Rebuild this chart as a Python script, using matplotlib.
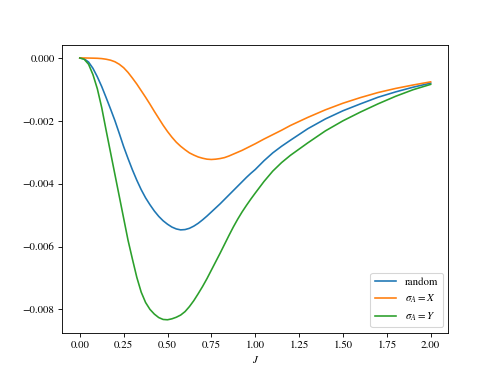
import numpy as np
import matplotlib.pyplot as plt

plt.rcParams['font.family'] = 'STIXGeneral'
plt.rcParams['mathtext.fontset'] = 'stix'

J = [0.0, 0.025, 0.05, 0.075, 0.1, 0.125, 0.15, 0.175, 0.2, 0.225,
     0.25, 0.275, 0.3, 0.325, 0.35, 0.375, 0.4, 0.425, 0.45, 0.475,
     0.5, 0.525, 0.55, 0.575, 0.6, 0.625, 0.65, 0.675, 0.7, 0.725,
     0.75, 0.775, 0.8, 0.825, 0.85, 0.875, 0.9, 0.925, 0.95, 0.975,
     1.0, 1.05, 1.1, 1.15, 1.2, 1.3, 1.4, 1.5, 1.6, 1.7, 1.8, 1.9, 2.0]

random_vals = [0.0, -0.00003, -0.00013, -0.00033, -0.0006, -0.00091, -0.00126, -0.00162, -0.00199, -0.0024,
               -0.00282, -0.0032, -0.00356, -0.00389, -0.00419, -0.00445, -0.00467, -0.00487, -0.00504, -0.00518,
               -0.00529, -0.00538, -0.00544, -0.00547, -0.00546, -0.00542, -0.00535, -0.00526, -0.00515, -0.00503,
               -0.0049, -0.00477, -0.00464, -0.0045, -0.00436, -0.00422, -0.00408, -0.00394, -0.0038, -0.00367,
               -0.00355, -0.00327, -0.00302, -0.00281, -0.00262, -0.00225, -0.00194, -0.00168, -0.00146, -0.00125,
               -0.00108, -0.00093, -0.0008]

sigma_x = [0.0, 0.0, -0.000003, -0.000006, -0.00001, -0.00002, -0.00004, -0.00007, -0.00012, -0.0002,
           -0.00031, -0.00046, -0.00064, -0.00083, -0.00104, -0.00125, -0.00147, -0.0017, -0.00192, -0.00214,
           -0.00234, -0.00252, -0.00268, -0.00281, -0.00292, -0.00302, -0.00309, -0.00315, -0.00319, -0.00322,
           -0.00323, -0.00322, -0.0032, -0.00317, -0.00312, -0.00306, -0.003, -0.00294, -0.00287, -0.0028,
           -0.00273, -0.00258, -0.00244, -0.0023, -0.00215, -0.00189, -0.00165, -0.00144, -0.00126, -0.0011,
           -0.00097, -0.00086, -0.00076]

sigma_y = [0.0, -0.00004, -0.0002, -0.00053, -0.00098, -0.00158, -0.0023, -0.003, -0.0037, -0.0044,
           -0.0051, -0.0058, -0.0064, -0.00698, -0.00745, -0.00778, -0.008, -0.00815, -0.00826, -0.00832,
           -0.00833, -0.0083, -0.00825, -0.00818, -0.00807, -0.00791, -0.00772, -0.0075, -0.00727, -0.00702,
           -0.00675, -0.00648, -0.00621, -0.00593, -0.00565, -0.00538, -0.00513, -0.0049, -0.00469, -0.00449,
           -0.0043, -0.00393, -0.0036, -0.00333, -0.0031, -0.0027, -0.00232, -0.002, -0.00172, -0.00146,
           -0.00122, -0.00101, -0.00084]

fig, ax = plt.subplots(figsize=(498 / 78, 374 / 78), dpi=78)
ax.plot(J, random_vals, label='random')
ax.plot(J, sigma_x, label=r'$\sigma_A = X$')
ax.plot(J, sigma_y, label=r'$\sigma_A = Y$')
ax.set_xlabel(r'$J$')
ax.legend(loc='lower right')
fig.savefig('out.png', dpi=78)
